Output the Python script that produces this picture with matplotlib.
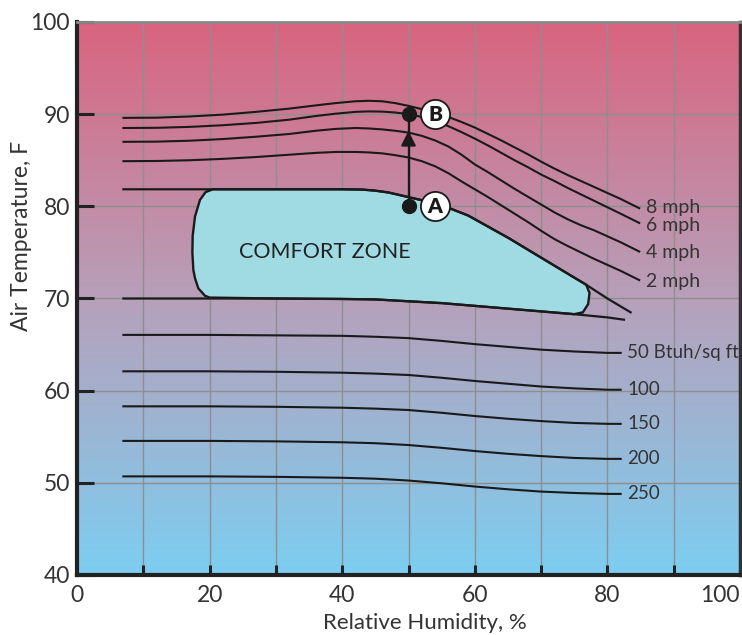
import numpy as np
import matplotlib
matplotlib.use("Agg")
import matplotlib.pyplot as plt

plt.rcParams['font.family'] = ['Lato', 'DejaVu Sans']

# ---------------- data ----------------
# air-velocity lines (mph)
mph_rh = [7, 12, 17, 22, 27, 32, 36, 39, 42, 44, 46, 48, 50, 52, 54, 56, 58, 60, 62, 64, 66, 68, 70, 72, 74, 76, 78, 80, 82, 84.8]
t_8mph = [89.6, 89.62, 89.75, 89.95, 90.25, 90.6, 90.95, 91.2, 91.4, 91.45, 91.4, 91.2, 90.9, 90.55, 90.15, 89.7,
          89.15, 88.55, 87.85, 87.15, 86.4, 85.65, 84.85, 84.1, 83.4, 82.75, 82.1, 81.45, 80.8, 79.8]
t_6mph = [88.5, 88.52, 88.62, 88.8, 89.05, 89.4, 89.8, 90.05, 90.25, 90.3, 90.28, 90.18, 90.0, 89.7, 89.25, 88.7,
          88.05, 87.35, 86.6, 85.8, 85.0, 84.25, 83.45, 82.75, 82.0, 81.3, 80.6, 79.9, 79.2, 78.2]
t_4mph = [87.0, 87.02, 87.12, 87.3, 87.55, 87.85, 88.2, 88.4, 88.5, 88.45, 88.35, 88.2, 88.0, 87.65, 87.15, 86.5,
          85.6, 84.55, 83.7, 82.8, 81.9, 81.05, 80.2, 79.35, 78.6, 77.95, 77.4, 76.75, 76.1, 75.1]
t_2mph = [84.9, 84.92, 85.0, 85.15, 85.35, 85.6, 85.8, 85.9, 85.9, 85.85, 85.75, 85.55, 85.3, 84.9, 84.35, 83.6,
          82.7, 81.85, 81.0, 80.1, 79.2, 78.3, 77.35, 76.45, 75.7, 75.0, 74.3, 73.65, 73.0, 72.0]
mph_labels = ["8 mph", "6 mph", "4 mph", "2 mph"]
mph_label_t = [79.86, 77.87, 75.02, 71.83]

# comfort-zone boundary lines
top_rh = [7, 20, 30, 40, 43, 45, 47, 50, 53, 56, 59, 62, 65, 68, 71, 74, 77, 80, 83.5]
top_t = [81.85, 81.85, 81.85, 81.85, 81.82, 81.7, 81.5, 81.0, 80.5, 79.85, 79.0, 77.8, 76.6, 75.3, 74.0, 72.7, 71.4, 70.0, 68.5]
bot_rh = [7, 20, 30, 40, 45, 50, 55, 60, 65, 70, 75, 80, 82.5]
bot_t = [70.0, 70.0, 70.0, 69.95, 69.9, 69.7, 69.5, 69.2, 68.9, 68.6, 68.3, 67.95, 67.7]

# comfort zone outline
zone_rh = [20.5, 30, 40, 43, 45, 47, 50, 53, 56, 59, 62, 65, 68, 71, 74, 76.8, 77.3, 77.1, 76.3, 75,
           70, 65, 60, 55, 50, 45, 40, 30, 20, 19.3, 18.3, 17.8, 17.55, 17.4, 17.45, 17.8, 18.55, 19.4, 20.5]
zone_t = [81.85, 81.85, 81.85, 81.82, 81.7, 81.5, 81.0, 80.5, 79.85, 79.0, 77.8, 76.6, 75.3, 74.0, 72.7, 71.5, 70.6, 69.4, 68.5, 68.3,
          68.6, 68.9, 69.2, 69.5, 69.7, 69.9, 69.95, 70.0, 70.1, 70.3, 71.1, 72.2, 73.1, 75.0, 76.8, 78.9, 80.7, 81.55, 81.85]

# radiant heat lines (Btuh/sq ft)
q_rh = [7, 20, 30, 40, 45, 50, 55, 60, 65, 70, 75, 80, 82]
q_50 = [66.05, 66.05, 66.0, 65.95, 65.85, 65.7, 65.4, 65.05, 64.75, 64.45, 64.25, 64.1, 64.1]
q_100 = [62.1, 62.1, 62.05, 61.95, 61.85, 61.7, 61.4, 61.05, 60.75, 60.45, 60.25, 60.1, 60.1]
q_150 = [58.3, 58.3, 58.25, 58.15, 58.05, 57.9, 57.6, 57.25, 56.95, 56.7, 56.5, 56.4, 56.4]
q_200 = [54.55, 54.55, 54.5, 54.4, 54.3, 54.1, 53.8, 53.45, 53.15, 52.9, 52.7, 52.6, 52.6]
q_250 = [50.7, 50.7, 50.65, 50.55, 50.45, 50.25, 49.95, 49.6, 49.3, 49.05, 48.9, 48.8, 48.8]
q_labels = ["50 Btuh/sq ft", "100", "150", "200", "250"]

# state points
pt_rh = [50, 50]
pt_t = [80, 90]
pt_names = ["A", "B"]

x_ticks = [0, 20, 40, 60, 80, 100]
y_ticks = [40, 50, 60, 70, 80, 90, 100]

# ---------------- figure ----------------
fig = plt.figure(figsize=(7.42, 6.35), dpi=100)
ax = fig.add_axes([77 / 742, 1 - 575 / 635, 663 / 742, 553 / 635])

# background gradient
stops_pos = [0.0, 0.5, 1.0]  # bottom -> top
stops_col = np.array([[124, 206, 241], [183, 160, 186], [217, 100, 127]]) / 255.0
yy = np.linspace(0, 1, 400)
grad = np.stack([np.interp(yy, stops_pos, stops_col[:, k]) for k in range(3)], axis=-1)[:, None, :]
ax.imshow(grad, extent=[0, 100, 40, 100], origin='lower', aspect='auto', zorder=0, interpolation='bilinear')

ax.set_xlim(0, 100)
ax.set_ylim(40, 100)
ax.set_xticks(x_ticks)
ax.set_yticks(y_ticks)
ax.set_xticks(list(range(10, 100, 10)), minor=True)
ax.grid(True, which='both', color='#8e8e8e', lw=1.0, zorder=0.5)
ax.set_axisbelow(True)

ax.tick_params(axis='both', which='both', direction='in', colors='#222222', labelcolor='#333333',
               labelsize=16.5)
ax.tick_params(axis='y', which='major', length=12, width=2.2, pad=5)
ax.tick_params(axis='x', which='minor', length=7, width=2.2)
ax.tick_params(axis='x', which='major', length=7, width=2.2, pad=7)
xl = ax.get_xticklabels()
xl[-1].set_ha('right')

for s in ['left', 'bottom']:
    ax.spines[s].set_linewidth(3)
    ax.spines[s].set_color('#222222')
ax.spines['right'].set_linewidth(2.5)
ax.spines['right'].set_color('#333333')
ax.spines['top'].set_linewidth(2)
ax.spines['top'].set_color('#8a8a8a')

# comfort zone
ax.fill(zone_rh, zone_t, facecolor='#a0dbe3', edgecolor='#1a1a1a', lw=1.7, zorder=2)
ax.text(37.4, 75.0, "COMFORT ZONE", ha='center', va='center', fontsize=15.5, color='#222222', zorder=5)

lc = '#1a1a1a'
for t in [t_8mph, t_6mph, t_4mph, t_2mph]:
    ax.plot(mph_rh, t, color=lc, lw=1.5, zorder=3)
for lab, ty in zip(mph_labels, mph_label_t):
    ax.text(85.8, ty, lab, ha='left', va='center', fontsize=14, color='#333333', zorder=5)

ax.plot(top_rh, top_t, color=lc, lw=1.6, zorder=3)
ax.plot(bot_rh, bot_t, color=lc, lw=1.6, zorder=3)

for q, lab in zip([q_50, q_100, q_150, q_200, q_250], q_labels):
    ax.plot(q_rh, q, color=lc, lw=1.5, zorder=3)
    ax.text(83.0, q[-1], lab, ha='left', va='center', fontsize=13.5, color='#333333', zorder=5)

# arrow A -> B
ax.plot(pt_rh, pt_t, color=lc, lw=1.7, zorder=4)
ax.annotate('', xy=(50, 88.2), xytext=(50, 86.6),
            arrowprops=dict(arrowstyle='-|>,head_length=0.9,head_width=0.45', color=lc, lw=1.5,
                            mutation_scale=10, shrinkA=0, shrinkB=0), zorder=4)
ax.plot(pt_rh, pt_t, 'o', color=lc, markersize=10, zorder=5)
for x, y, n in zip(pt_rh, pt_t, pt_names):
    ax.plot(x + 4, y, 'o', markersize=21, markerfacecolor='white', markeredgecolor=lc, markeredgewidth=1.3, zorder=6)
    ax.text(x + 4, y - 0.05, n, ha='center', va='center', fontsize=15, fontweight='heavy', color=lc, zorder=7)

fig.text(425 / 742, 1 - 623 / 635, "Relative Humidity, %", ha='center', va='center', fontsize=16,
         color='#333333')
fig.text(22 / 742, 1 - 236 / 635, "Air Temperature, F", ha='center', va='center', rotation=90, fontsize=16.5,
         color='#333333')

fig.savefig("out.png", dpi=100)
